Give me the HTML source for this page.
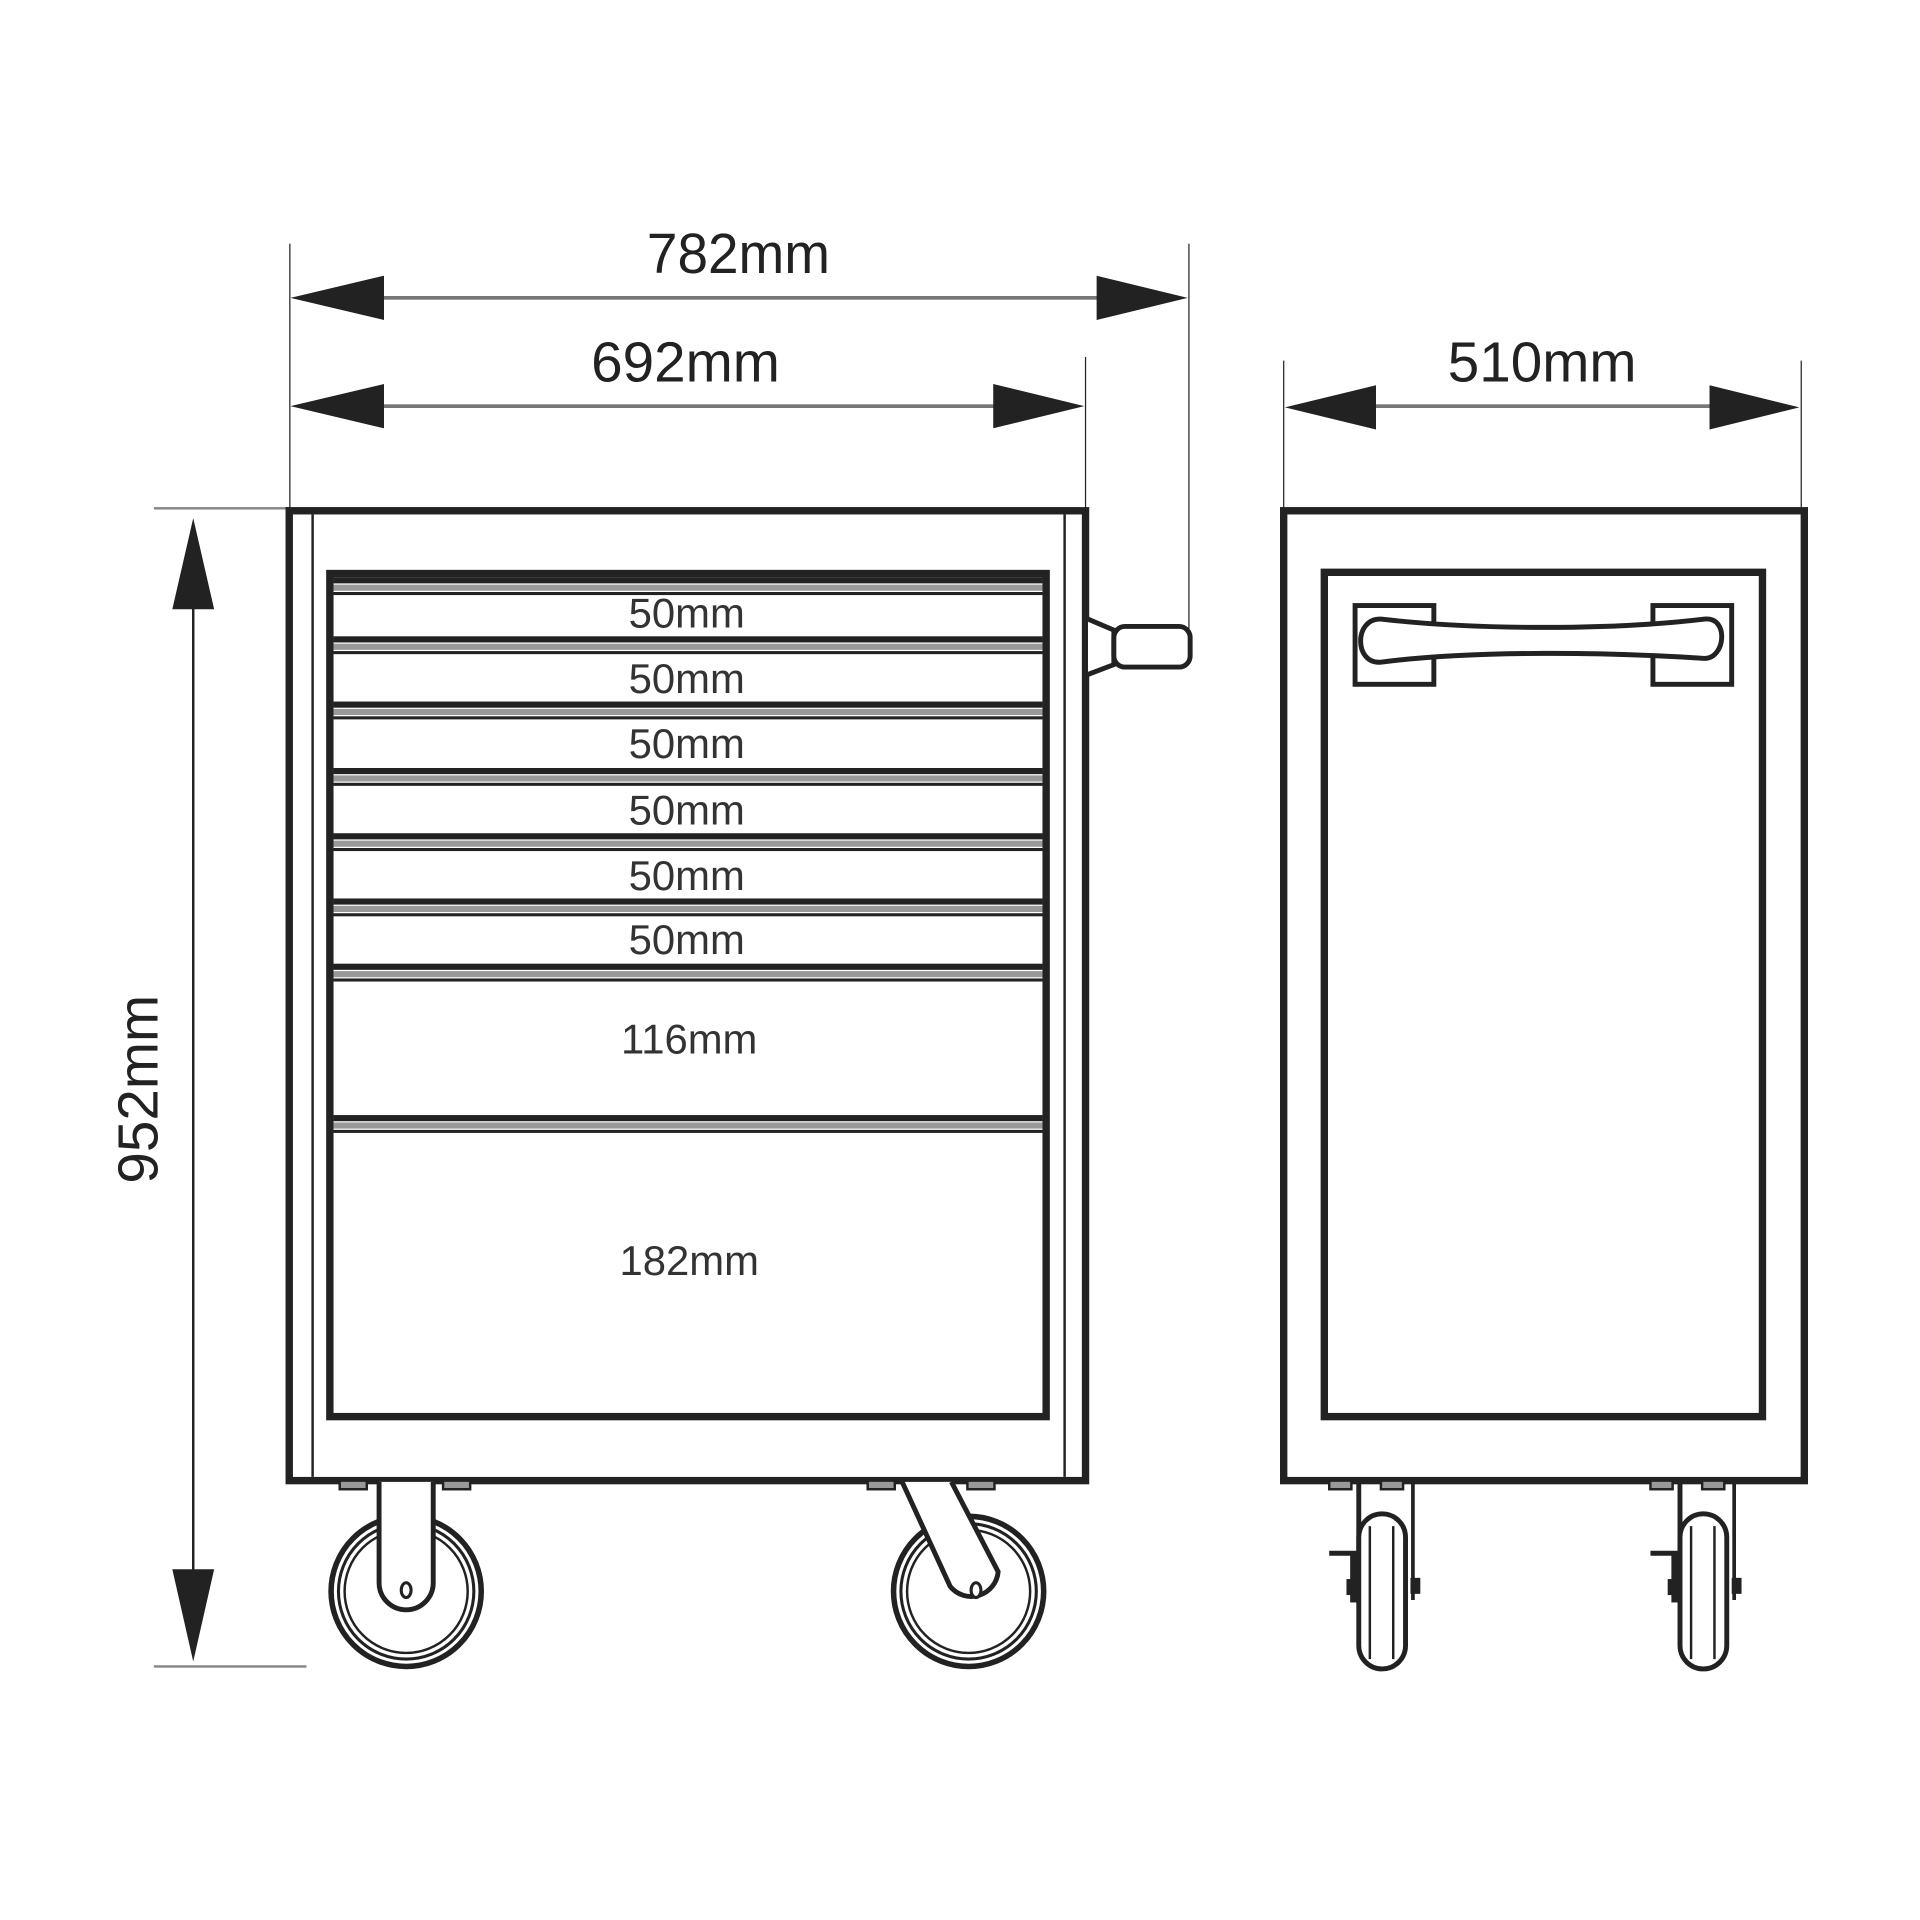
<!DOCTYPE html>
<html><head><style>html,body{margin:0;padding:0;background:#fff;width:1920px;height:1920px;overflow:hidden}</style></head>
<body>
<svg width="1920" height="1920" viewBox="0 0 1560 1560" xmlns="http://www.w3.org/2000/svg" font-family="Liberation Sans, sans-serif">
<g fill="#222" stroke="none">
<!-- dimension 782 -->
<rect x="235" y="198" width="1" height="215"/>
<rect x="965.5" y="198" width="1" height="320"/>
<rect x="300" y="240.5" width="600" height="3" fill="#777"/>
<polygon points="236,242 312,224 312,260"/>
<polygon points="965,242 891,224 891,260"/>
<!-- 692 -->
<rect x="881.5" y="290" width="1" height="123"/>
<rect x="300" y="328.5" width="520" height="3" fill="#777"/>
<polygon points="236,330 312,312 312,348"/>
<polygon points="881,330 807,312 807,348"/>
<!-- 510 -->
<rect x="1042.5" y="293" width="1" height="120"/>
<rect x="1463" y="293" width="1" height="120"/>
<rect x="1110" y="328.5" width="290" height="3" fill="#777"/>
<polygon points="1044,331 1118,313 1118,349"/>
<polygon points="1462,331 1389,313 1389,349"/>
<!-- 952 -->
<rect x="125" y="412" width="110" height="2" fill="#888"/>
<rect x="125" y="1353" width="124" height="2" fill="#888"/>
<rect x="156" y="480" width="2" height="810"/>
<polygon points="157,421 140,495 174,495"/>
<polygon points="157,1350 140,1275 174,1275"/>
</g>
<g fill="#222" font-size="46" text-anchor="middle">
<text x="600" y="222" transform="translate(600 0) scale(0.97 1) translate(-600 0)">782mm</text>
<text x="557" y="310">692mm</text>
<text x="1253" y="310">510mm</text>
<text transform="translate(128 885) rotate(-90)" x="0" y="0">952mm</text>
</g>
<!-- front cabinet -->
<g fill="none" stroke="#222">
<rect x="235" y="415" width="647" height="788" stroke-width="6"/>
<line x1="254" y1="418" x2="254" y2="1200" stroke-width="2"/>
<line x1="865" y1="418" x2="865" y2="1200" stroke-width="2"/>
<rect x="268" y="466" width="582" height="685" stroke-width="6"/>
</g>
<g>
<!-- top strip -->
<rect x="271" y="469" width="576" height="5" fill="#222"/>
<rect x="271" y="475" width="576" height="5" fill="#999"/>
<rect x="271" y="481" width="576" height="2.5" fill="#222"/>
</g>
<g id="sep">
<rect x="271" y="517" width="576" height="5" fill="#222"/>
<rect x="271" y="523" width="576" height="5" fill="#999"/>
<rect x="271" y="529" width="576" height="2.5" fill="#222"/>
</g>
<use href="#sep" y="53"/>
<use href="#sep" y="107"/>
<use href="#sep" y="160"/>
<use href="#sep" y="213"/>
<use href="#sep" y="266"/>
<use href="#sep" y="389"/>
<g fill="#333" font-size="34" text-anchor="middle">
<text x="558" y="510">50mm</text>
<text x="558" y="563">50mm</text>
<text x="558" y="616">50mm</text>
<text x="558" y="670">50mm</text>
<text x="558" y="723">50mm</text>
<text x="558" y="775">50mm</text>
<text x="560" y="856">116mm</text>
<text x="560" y="1036">182mm</text>
</g>
<!-- side handle -->
<g fill="#fff" stroke="#222" stroke-width="4">
<path d="M884,503 L905,512 L905,540 L884,548"/>
<rect x="905" y="509" width="62" height="33" rx="9"/>
</g>
<!-- mount plates front -->
<g fill="#999" stroke="#222" stroke-width="2">
<rect x="276" y="1203" width="22" height="7"/>
<rect x="360" y="1203" width="22" height="7"/>
<rect x="705" y="1203" width="22" height="7"/>
<rect x="786" y="1203" width="22" height="7"/>
</g>
<!-- wheels front -->
<g fill="none" stroke="#222">
<circle cx="330" cy="1293" r="61" stroke-width="4.5"/>
<circle cx="330" cy="1293" r="55" stroke-width="2.5"/>
<circle cx="330" cy="1293" r="50" stroke-width="2"/>
<circle cx="787" cy="1293" r="61" stroke-width="4.5"/>
<circle cx="787" cy="1293" r="55" stroke-width="2.5"/>
<circle cx="787" cy="1293" r="50" stroke-width="2"/>
</g>
<g fill="#fff" stroke="#222" stroke-width="4">
<path d="M308,1204 L308,1286 A22,22 0 0 0 352,1286 L352,1204"/>
<ellipse cx="330" cy="1292" rx="4" ry="6" stroke-width="2.5"/>
<path d="M733,1204 L772,1289 A22,22 0 0 0 811,1277 L773,1204"/>
<ellipse cx="793" cy="1292" rx="4" ry="6" stroke-width="2.5"/>
</g>
<!-- side view -->
<g fill="none" stroke="#222">
<rect x="1043" y="415" width="423" height="788" stroke-width="6"/>
<rect x="1076" y="465" width="356" height="686" stroke-width="6"/>
<rect x="1101" y="492" width="64" height="64" stroke-width="4"/>
<rect x="1343" y="492" width="64" height="64" stroke-width="4"/>
</g>
<path d="M1122,503 C1200,512 1310,512 1385,503 C1405,501 1402,535 1385,535 C1310,530 1200,528 1122,538 C1100,540 1100,502 1122,503 Z" fill="#fff" stroke="#222" stroke-width="4"/>
<g id="sw">
<g fill="#999" stroke="#222" stroke-width="2">
<rect x="1080" y="1203" width="18" height="7"/>
<rect x="1122" y="1203" width="18" height="7"/>
</g>
<g stroke="#222" fill="none">
<line x1="1104" y1="1205" x2="1104" y2="1300" stroke-width="4"/>
<line x1="1148" y1="1205" x2="1148" y2="1300" stroke-width="3"/>
<line x1="1080" y1="1262" x2="1104" y2="1262" stroke-width="4"/>
</g>
<rect x="1097" y="1262" width="8" height="40" fill="#222"/>
<rect x="1094" y="1283" width="6" height="13" fill="#222"/>
<rect x="1146" y="1282" width="8" height="13" fill="#222"/>
<rect x="1104" y="1230" width="38" height="126" rx="19" fill="#fff" stroke="#222" stroke-width="4"/>
<line x1="1113" y1="1240" x2="1113" y2="1348" stroke="#222" stroke-width="2"/>
<line x1="1132" y1="1240" x2="1132" y2="1348" stroke="#222" stroke-width="2"/>
</g>
<use href="#sw" x="261"/>
</svg>
</body></html>
